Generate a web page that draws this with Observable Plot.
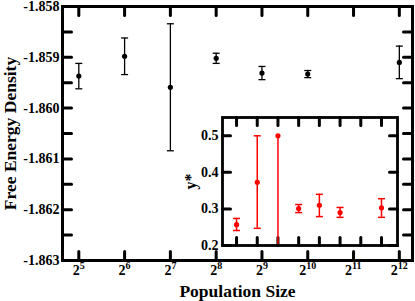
<!DOCTYPE html>
<html><head><meta charset="utf-8">
<script src="https://cdn.jsdelivr.net/npm/d3@7"></script>
<script src="https://cdn.jsdelivr.net/npm/@observablehq/plot@0.6"></script>
<style>
body{margin:0;background:#fff}
#wrap{position:relative;width:415px;height:301px}
#inset{position:absolute;left:175px;top:108px}
</style></head><body>
<div id="wrap"><div id="main"></div><div id="inset"></div></div>
<script>
// ---- data ----
const popSizes = [32, 64, 128, 256, 512, 1024, 4096];
const freeEnergy = [-1.85937, -1.85898, -1.85959, -1.85902, -1.85931, -1.85933, -1.85910];
const freeEnergyErr = [0.00025, 0.00036, 0.00125, 0.00010, 0.00013, 0.00007, 0.00032];
const yStar = [0.257, 0.373, 0.500, 0.301, 0.310, 0.290, 0.303];
const yStarLo = [0.241, 0.247, 0.000, 0.290, 0.279, 0.277, 0.277];
const yStarHi = [0.274, 0.500, 0.500, 0.312, 0.340, 0.304, 0.328];
const xTickValues = [32, 64, 128, 256, 512, 1024, 2048, 4096];
const xTickExponents = [5, 6, 7, 8, 9, 10, 11, 12];
const yMajorTicks = [-1.863, -1.862, -1.861, -1.860, -1.859, -1.858];
const yAllTicks = [-1.863, -1.8625, -1.862, -1.8615, -1.861, -1.8605, -1.860, -1.8595, -1.859, -1.8585, -1.858];
const insetYTicks = [0.2, 0.3, 0.4, 0.5];

const FONT = "'Liberation Serif', 'Times New Roman', serif";
const baseStyle = {fontFamily: FONT, fontWeight: "bold", fontSize: "14px", color: "black", background: "transparent"};

const mainData = popSizes.map((n, i) => ({n, v: freeEnergy[i], lo: freeEnergy[i] - freeEnergyErr[i], hi: freeEnergy[i] + freeEnergyErr[i]}));
const insetData = popSizes.map((n, i) => ({n, v: yStar[i], lo: yStarLo[i], hi: yStarHi[i]}));
const xLabelData = xTickValues.map((x, i) => ({x, e: xTickExponents[i]}));

const tickLine = {draw(ctx, l) { ctx.moveTo(0, 0); ctx.lineTo(0, -l); }};
const cap = {draw(ctx) { ctx.moveTo(-3.5, 0); ctx.lineTo(3.5, 0); }};

function inTicks(values, ch, len, sw) {
  const o = {length: len, anchor: "start", shape: tickLine, stroke: "black", strokeWidth: sw};
  if (ch === "x") return [
    Plot.vector(values, {...o, x: d => d, frameAnchor: "bottom", rotate: 0}),
    Plot.vector(values, {...o, x: d => d, frameAnchor: "top", rotate: 180})
  ];
  return [
    Plot.vector(values, {...o, y: d => d, frameAnchor: "left", rotate: 90}),
    Plot.vector(values, {...o, y: d => d, frameAnchor: "right", rotate: -90})
  ];
}

const T = {lineAnchor: "middle"};

const main = Plot.plot({
  width: 415, height: 301,
  marginLeft: 62, marginRight: 3, marginTop: 6, marginBottom: 41,
  style: {...baseStyle, background: "white"},
  x: {type: "log", base: 2, domain: [25, 5000], axis: null},
  y: {domain: [-1.863, -1.858]},
  marks: [
    Plot.axisY({ticks: yMajorTicks, tickSize: 0, tickPadding: 3, tickFormat: d => d.toFixed(3), fontSize: 14, label: null}),
    ...inTicks(yAllTicks, "y", 9, 3),
    ...inTicks(xTickValues, "x", 9, 3),
    Plot.ruleX(mainData, {x: "n", y1: "lo", y2: "hi", stroke: "black", strokeWidth: 1.3}),
    Plot.dot(mainData, {x: "n", y: "lo", symbol: cap, fill: "none", stroke: "black", strokeWidth: 1.3}),
    Plot.dot(mainData, {x: "n", y: "hi", symbol: cap, fill: "none", stroke: "black", strokeWidth: 1.3}),
    Plot.dot(mainData, {x: "n", y: "v", r: 2.6, fill: "black"}),
    Plot.frame({stroke: "black", strokeWidth: 3}),
    Plot.text(xLabelData, {...T, filter: d => d.e < 10, x: "x", text: () => "2", frameAnchor: "bottom", dy: 10, dx: 1, textAnchor: "end", fontSize: 14}),
    Plot.text(xLabelData, {...T, filter: d => d.e < 10, x: "x", text: d => String(d.e), frameAnchor: "bottom", dy: 5, dx: 1, textAnchor: "start", fontSize: 10}),
    Plot.text(xLabelData, {...T, filter: d => d.e >= 10, x: "x", text: () => "2", frameAnchor: "bottom", dy: 10, dx: -1.5, textAnchor: "end", fontSize: 14}),
    Plot.text(xLabelData, {...T, filter: d => d.e >= 10, x: "x", text: d => String(d.e), frameAnchor: "bottom", dy: 5, dx: -1.5, textAnchor: "start", fontSize: 10}),
    Plot.text(["Population Size"], {...T, frameAnchor: "bottom", textAnchor: "middle", dy: 31, fontSize: 17.5}),
    Plot.text(["Free Energy Density"], {...T, frameAnchor: "left", textAnchor: "middle", rotate: -90, dx: -52, fontSize: 17.5})
  ]
});
document.getElementById("main").appendChild(main);

const inset = Plot.plot({
  width: 226, height: 152,
  marginLeft: 47, marginRight: 4, marginTop: 9, marginBottom: 15,
  style: baseStyle,
  x: {type: "log", base: 2, domain: [20, 7000], axis: null},
  y: {domain: [0.2, 0.55]},
  marks: [
    Plot.axisY({ticks: insetYTicks, tickSize: 0, tickPadding: 4, tickFormat: d => d.toFixed(1), fontSize: 14, label: null}),
    ...inTicks(insetYTicks, "y", 8, 3),
    ...inTicks(xTickValues, "x", 8, 3),
    Plot.ruleX(insetData, {x: "n", y1: "lo", y2: "hi", stroke: "red", strokeWidth: 1.5, clip: true}),
    Plot.dot(insetData, {filter: d => d.lo >= 0.2, x: "n", y: "lo", symbol: cap, fill: "none", stroke: "red", strokeWidth: 1.5}),
    Plot.dot(insetData, {filter: d => d.hi > d.v, x: "n", y: "hi", symbol: cap, fill: "none", stroke: "red", strokeWidth: 1.5}),
    Plot.dot(insetData, {x: "n", y: "v", r: 2.6, fill: "red"}),
    Plot.frame({stroke: "black", strokeWidth: 2.8}),
    Plot.text(["y*"], {...T, frameAnchor: "left", textAnchor: "middle", rotate: -90, dx: -32, fontSize: 16})
  ]
});
document.getElementById("inset").appendChild(inset);
</script>
</body></html>
